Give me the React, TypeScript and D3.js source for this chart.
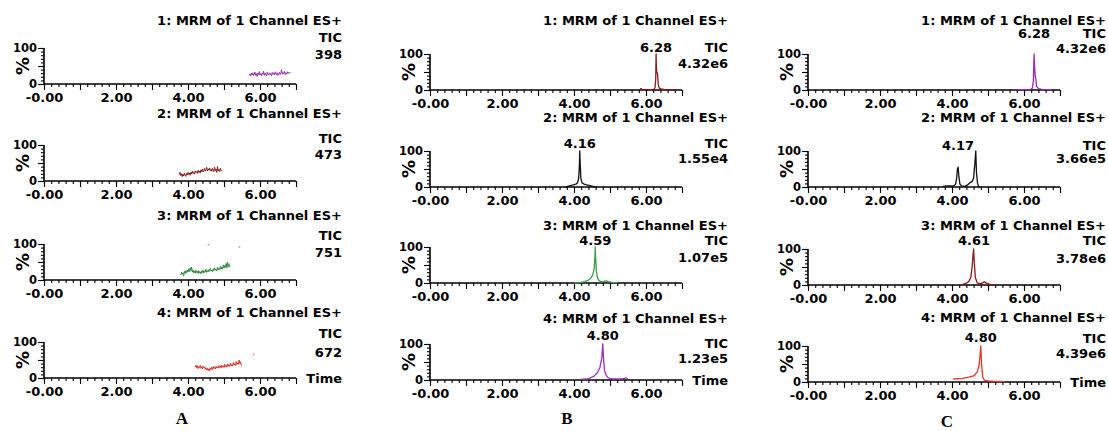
import React, { useRef, useEffect } from 'react'
import * as d3 from 'd3'

type Pt = [number, number]

// ---- text / labels ----
const channelTitles = [
  '1: MRM of 1 Channel ES+',
  '2: MRM of 1 Channel ES+',
  '3: MRM of 1 Channel ES+',
  '4: MRM of 1 Channel ES+',
]
const ticText = 'TIC'
const timeText = 'Time'
const yAxisLabel = '%'
const panelLetters = ['A', 'B', 'C']
const xTicks = [0, 2, 4, 6]
const xTickLabels = ['-0.00', '2.00', '4.00', '6.00']
const yTicks = [0, 100]
const yTickLabels = ['0', '100']

// ---- intensities (TIC) per column ----
const ticA = ['398', '473', '751', '672']
const ticB = ['4.32e6', '1.55e4', '1.07e5', '1.23e5']
const ticC = ['4.32e6', '3.66e5', '3.78e6', '4.39e6']

// ---- labelled retention times (null = no label) ----
const peaksA: (number | null)[] = [null, null, null, null]
const peaksB = [6.28, 4.16, 4.59, 4.8]
const peaksC = [6.28, 4.17, 4.61, 4.8]

// ---- traces [time, %] ----
const a1: Pt[] = [
  [5.7, 24], [5.72, 28], [5.74, 22], [5.76, 30], [5.78, 25], [5.8, 31], [5.82, 23], [5.84, 27], [5.86, 33], [5.88, 24],
  [5.9, 29], [5.92, 21], [5.94, 30], [5.96, 26], [5.98, 34], [6.0, 25], [6.02, 29], [6.04, 23], [6.06, 31], [6.08, 27],
  [6.1, 36], [6.12, 24], [6.14, 30], [6.16, 26], [6.18, 22], [6.2, 33], [6.22, 27], [6.24, 25], [6.26, 31], [6.28, 26],
  [6.3, 29], [6.32, 23], [6.34, 32], [6.36, 27], [6.38, 30], [6.4, 25], [6.42, 34], [6.44, 28], [6.46, 26], [6.48, 31],
  [6.5, 24], [6.52, 29], [6.54, 33], [6.56, 26], [6.58, 30], [6.6, 40], [6.62, 27], [6.64, 32], [6.66, 29], [6.68, 35],
  [6.7, 26], [6.72, 31], [6.74, 28], [6.76, 34], [6.78, 29], [6.8, 32], [6.82, 30], [6.84, 33],
]
const a2: Pt[] = [
  [3.76, 18], [3.78, 24], [3.8, 15], [3.82, 20], [3.84, 12], [3.86, 19], [3.88, 14], [3.9, 22], [3.92, 16], [3.94, 13],
  [3.96, 21], [3.98, 17], [4.0, 24], [4.02, 18], [4.04, 22], [4.06, 16], [4.08, 25], [4.1, 20], [4.12, 27], [4.14, 21],
  [4.16, 24], [4.18, 19], [4.2, 28], [4.22, 23], [4.24, 26], [4.26, 21], [4.28, 30], [4.3, 24], [4.32, 27], [4.34, 22],
  [4.36, 31], [4.38, 26], [4.4, 33], [4.42, 25], [4.44, 29], [4.46, 35], [4.48, 27], [4.5, 32], [4.52, 38], [4.54, 28],
  [4.56, 34], [4.58, 30], [4.6, 36], [4.62, 29], [4.64, 33], [4.66, 27], [4.68, 35], [4.7, 30], [4.72, 26], [4.74, 38],
  [4.76, 29], [4.78, 33], [4.8, 24], [4.82, 40], [4.84, 28], [4.86, 32], [4.88, 26], [4.9, 35], [4.92, 30], [4.94, 27],
]
const a3: Pt[] = [
  [3.8, 14], [3.82, 22], [3.84, 16], [3.86, 20], [3.88, 12], [3.9, 24], [3.92, 18], [3.94, 26], [3.96, 20], [3.98, 28],
  [4.0, 22], [4.02, 30], [4.04, 24], [4.06, 34], [4.08, 26], [4.1, 36], [4.12, 22], [4.14, 28], [4.16, 20], [4.18, 25],
  [4.2, 19], [4.22, 27], [4.24, 21], [4.26, 24], [4.28, 18], [4.3, 26], [4.32, 20], [4.34, 23], [4.36, 17], [4.38, 25],
  [4.4, 21], [4.42, 28], [4.44, 19], [4.46, 24], [4.48, 22], [4.5, 30], [4.52, 21], [4.54, 26], [4.56, 23], [4.58, 29],
  [4.6, 24], [4.62, 32], [4.64, 25], [4.66, 28], [4.68, 23], [4.7, 31], [4.72, 26], [4.74, 34], [4.76, 27], [4.78, 30],
  [4.8, 25], [4.82, 35], [4.84, 28], [4.86, 33], [4.88, 29], [4.9, 38], [4.92, 30], [4.94, 36], [4.96, 31], [4.98, 42],
  [5.0, 33], [5.02, 40], [5.04, 35], [5.06, 46], [5.08, 34], [5.1, 50], [5.12, 38], [5.14, 44], [5.15, 36],
]
const a4: Pt[] = [
  [4.2, 30], [4.22, 36], [4.24, 28], [4.26, 34], [4.28, 26], [4.3, 32], [4.32, 29], [4.34, 35], [4.36, 27], [4.38, 31],
  [4.4, 25], [4.42, 33], [4.44, 28], [4.46, 30], [4.48, 24], [4.5, 29], [4.52, 22], [4.54, 27], [4.56, 21], [4.58, 26],
  [4.6, 20], [4.62, 28], [4.64, 23], [4.66, 30], [4.68, 24], [4.7, 32], [4.72, 26], [4.74, 30], [4.76, 25], [4.78, 33],
  [4.8, 28], [4.82, 31], [4.84, 27], [4.86, 35], [4.88, 29], [4.9, 33], [4.92, 28], [4.94, 36], [4.96, 30], [4.98, 34],
  [5.0, 29], [5.02, 38], [5.04, 31], [5.06, 35], [5.08, 30], [5.1, 39], [5.12, 33], [5.14, 37], [5.16, 32], [5.18, 41],
  [5.2, 34], [5.22, 38], [5.24, 33], [5.26, 43], [5.28, 36], [5.3, 40], [5.32, 35], [5.34, 46], [5.36, 37], [5.38, 42],
  [5.4, 38], [5.42, 50], [5.44, 40], [5.46, 45], [5.48, 36], [5.5, 34],
]
const b1: Pt[] = [
  [5.83, 1], [5.86, 4], [5.89, 2], [5.95, 1], [6.05, 1], [6.15, 1], [6.22, 2], [6.25, 6], [6.27, 30], [6.28, 100],
  [6.29, 60], [6.3, 50], [6.32, 45], [6.34, 15], [6.37, 5], [6.42, 3], [6.5, 2], [6.6, 1], [6.7, 1], [6.82, 0],
]
const b2: Pt[] = [
  [3.75, 0], [3.82, 2], [3.9, 4], [3.98, 6], [4.05, 8], [4.1, 12], [4.13, 25], [4.15, 60], [4.16, 100], [4.17, 70],
  [4.19, 25], [4.22, 12], [4.28, 8], [4.35, 6], [4.45, 4], [4.55, 1], [4.63, 0],
]
const b3: Pt[] = [
  [4.0, 0], [4.1, 1], [4.2, 2], [4.3, 4], [4.4, 8], [4.47, 14], [4.52, 22], [4.56, 40], [4.58, 70], [4.59, 100],
  [4.6, 70], [4.62, 35], [4.65, 15], [4.7, 6], [4.78, 3], [4.85, 5], [4.9, 6], [4.95, 4], [5.05, 2], [5.22, 1],
]
const b4: Pt[] = [
  [4.2, 2], [4.4, 4], [4.55, 10], [4.65, 20], [4.72, 35], [4.77, 60], [4.8, 100], [4.82, 60], [4.85, 25], [4.9, 12],
  [4.95, 6], [5.05, 4], [5.2, 3], [5.35, 3], [5.45, 6], [5.49, 3],
]
const c1: Pt[] = [
  [5.8, 1], [5.9, 1], [6.0, 1], [6.1, 1], [6.18, 2], [6.23, 5], [6.26, 25], [6.28, 100], [6.29, 70], [6.31, 40],
  [6.33, 30], [6.35, 10], [6.4, 4], [6.5, 2], [6.6, 1], [6.78, 1],
]
const c2: Pt[] = [
  [3.75, 2], [3.85, 3], [3.95, 3], [4.05, 3], [4.1, 8], [4.13, 25], [4.15, 50], [4.17, 55], [4.19, 30], [4.22, 8],
  [4.27, 3], [4.35, 2], [4.42, 5], [4.5, 12], [4.56, 15], [4.6, 25], [4.63, 60], [4.66, 100], [4.68, 40], [4.71, 10],
  [4.74, 2], [4.77, 0],
]
const c3: Pt[] = [
  [4.2, 1], [4.3, 2], [4.4, 5], [4.47, 10], [4.52, 20], [4.56, 50], [4.58, 80], [4.6, 100], [4.62, 60], [4.65, 20],
  [4.7, 6], [4.78, 3], [4.85, 6], [4.9, 9], [4.95, 5], [5.05, 2], [5.2, 1],
]
const c4: Pt[] = [
  [4.03, 8], [4.15, 9], [4.3, 10], [4.5, 14], [4.62, 18], [4.7, 28], [4.75, 45], [4.78, 75], [4.8, 100], [4.82, 50],
  [4.85, 15], [4.9, 5], [5.0, 3], [5.2, 2], [5.47, 1],
]
// stray single points in column A
const a3Dots: Pt[] = [[4.57, 98], [5.43, 92]]
const a4Dots: Pt[] = [[5.82, 65]]

const traces: Pt[][][] = [[a1, a2, a3, a4], [b1, b2, b3, b4], [c1, c2, c3, c4]]
const dots: Pt[][][] = [[[], [], a3Dots, a4Dots], [[], [], [], []], [[], [], [], []]]
const ticValues = [ticA, ticB, ticC]
const peakTimes = [peaksA, peaksB, peaksC]
const traceColors = [
  ['#9b2fae', '#8b1a1a', '#2e8b3e', '#e8332a'],
  ['#8b1a1a', '#111111', '#3a9a4a', '#9b2fc0'],
  ['#a020c8', '#111111', '#8b1a1a', '#e8332a'],
]

// ---- layout ----
const W = 1108
const H = 431
const COL_X = [44, 430, 808]
const AXIS_W = 252
const AXIS_H = 36
const BASE_Y = [[84, 181, 280, 378], [90, 187, 283, 380], [90, 187, 285, 382]]
const TITLE_Y = [[20, 113, 215, 312], [20, 117, 225, 318], [20, 117, 225, 317]]
const TIC_Y = [[37, 138, 235, 333], [47, 143, 240, 343], [33, 145, 240, 338]]
const VAL_Y = [[54, 154, 252, 352], [63, 158, 257, 358], [48, 158, 258, 353]]
const PEAK_Y = [[0, 0, 0, 0], [47, 143, 240, 335], [33, 145, 240, 337]]
const LETTER_X = [182, 567, 947]
const LETTER_Y = [424, 424, 427]

const App: React.FC = () => {
  const svgRef = useRef<SVGSVGElement>(null)

  useEffect(() => {
    if (!svgRef.current) return
    const svg = d3.select(svgRef.current)
    svg.selectAll('*').remove()

    const x = d3.scaleLinear().domain([0, 7]).range([0, AXIS_W])

    panelLetters.forEach((letter, c) => {
      const col = svg.append('g').attr('transform', `translate(${COL_X[c]},0)`)
      const right = AXIS_W + 46

      channelTitles.forEach((title, r) => {
        const base = BASE_Y[c][r]
        const y = d3.scaleLinear().domain([0, 100]).range([base, base - AXIS_H])
        const g = col.append('g')

        // x axis: minor every 0.2, major every 1
        const xMinor = d3.axisBottom(x).tickValues(d3.range(0, 7.001, 0.2)).tickSize(3).tickFormat(() => '').tickSizeOuter(0)
        const xMajor = d3.axisBottom(x).tickValues(d3.range(0, 7.001, 1)).tickSize(6).tickFormat(() => '').tickSizeOuter(0)
        const xLab = d3.axisBottom(x).tickValues(xTicks).tickSize(0).tickPadding(9)
          .tickFormat((_d, i) => xTickLabels[i])
        ;[xMinor, xMajor, xLab].forEach(ax => {
          const a = g.append('g').attr('transform', `translate(0,${base})`).call(ax)
          a.select('.domain').remove()
          a.selectAll('line').attr('stroke', '#000').attr('stroke-width', 1.1)
          a.selectAll('text').attr('font-size', 13).attr('font-family', 'DejaVu Sans').attr('font-weight', 'bold').attr('fill', '#000')
        })

        // y axis
        const yMinor = d3.axisLeft(y).tickValues(d3.range(0, 100.001, 10)).tickSize(3).tickFormat(() => '').tickSizeOuter(0)
        const yMajor = d3.axisLeft(y).tickValues([0, 50, 100]).tickSize(6).tickFormat(() => '').tickSizeOuter(0)
        const yLab = d3.axisLeft(y).tickValues(yTicks).tickSize(0).tickPadding(7)
          .tickFormat((_d, i) => yTickLabels[i])
        ;[yMinor, yMajor, yLab].forEach(ax => {
          const a = g.append('g').call(ax)
          a.select('.domain').remove()
          a.selectAll('line').attr('stroke', '#000').attr('stroke-width', 1.1)
          a.selectAll('text').attr('font-size', 11.5).attr('font-family', 'DejaVu Sans').attr('font-weight', 'bold').attr('fill', '#000')
        })

        // axis lines
        g.append('line').attr('x1', x(0)).attr('x2', x(7)).attr('y1', base).attr('y2', base)
          .attr('stroke', '#000').attr('stroke-width', 1.6)
        g.append('line').attr('x1', x(0)).attr('x2', x(0)).attr('y1', y(0)).attr('y2', y(100))
          .attr('stroke', '#000').attr('stroke-width', 1.6)

        g.append('text')
          .attr('transform', `translate(-21,${y(50)}) rotate(-90)`)
          .attr('text-anchor', 'middle').attr('dy', '0.35em')
          .attr('font-size', 18).attr('font-weight', 'bold')
          .text(yAxisLabel)

        // trace
        const line = d3.line<Pt>().x(d => x(d[0])).y(d => y(d[1]))
        g.append('path').datum(traces[c][r])
          .attr('d', line)
          .attr('fill', 'none')
          .attr('stroke', traceColors[c][r])
          .attr('stroke-width', c === 0 ? 1 : 1.3)
          .attr('stroke-linejoin', 'round')
        g.selectAll('circle.dot').data(dots[c][r]).join('circle')
          .attr('class', 'dot')
          .attr('cx', d => x(d[0])).attr('cy', d => y(d[1])).attr('r', 0.9)
          .attr('fill', traceColors[c][r]).attr('opacity', 0.6)

        // header texts
        g.append('text').attr('x', right).attr('y', TITLE_Y[c][r]).attr('dy', '0.35em')
          .attr('text-anchor', 'end').text(title)
        g.append('text').attr('x', right).attr('y', TIC_Y[c][r]).attr('dy', '0.35em')
          .attr('text-anchor', 'end').text(ticText)
        g.append('text').attr('x', right).attr('y', VAL_Y[c][r]).attr('dy', '0.35em')
          .attr('text-anchor', 'end').text(ticValues[c][r])

        const pk = peakTimes[c][r]
        if (pk !== null) {
          g.append('text').attr('x', x(pk)).attr('y', PEAK_Y[c][r]).attr('dy', '0.35em')
            .attr('text-anchor', 'middle').text(pk.toFixed(2))
        }

        if (r === channelTitles.length - 1) {
          g.append('text').attr('x', right).attr('y', base).attr('dy', '0.35em')
            .attr('text-anchor', 'end').text(timeText)
        }
      })

      svg.append('text')
        .attr('x', LETTER_X[c]).attr('y', LETTER_Y[c])
        .attr('text-anchor', 'middle')
        .attr('font-family', 'Liberation Serif')
        .attr('font-size', 17).attr('font-weight', 'bold')
        .text(letter)
    })
  }, [])

  return (
    <svg
      ref={svgRef}
      width={W}
      height={H}
      style={{ position: 'absolute', left: 0, top: 0, background: '#fff' }}
      fontFamily="DejaVu Sans"
      fontWeight="bold"
      fontSize={13}
    />
  )
}

export default App
